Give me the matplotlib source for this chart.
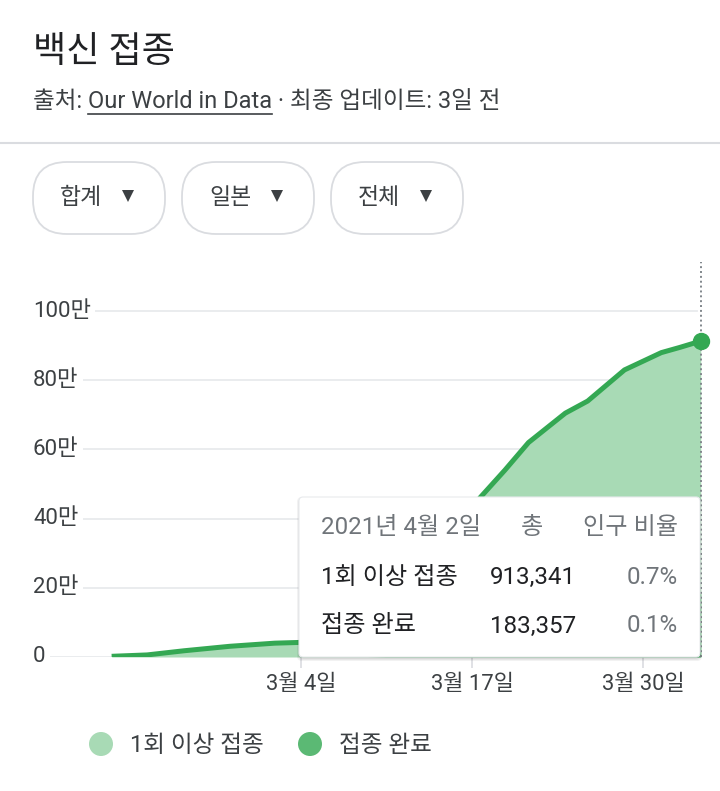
import matplotlib.pyplot as plt
from matplotlib.patches import FancyBboxPatch, Circle
from matplotlib.transforms import blended_transform_factory

plt.rcParams['font.family'] = ['Roboto', 'Noto Sans CJK KR', 'DejaVu Sans']

# days counted from 3월 4일
first_days = [-14.4, -11.7, -8.9, -5.4, -2.0, -0.2, 3, 6, 8.5, 11, 13.6,
              15.5, 17.3, 20.1, 21.8, 24.6, 27.4, 28.8, 30.4]
first_dose = [2000, 6000, 18000, 31000, 40000, 42000, 55000, 90000, 160000,
              290000, 460000, 540000, 620000, 705000, 740000, 830000, 880000,
              895000, 913341]
full_days = [-14.4, 5, 7, 12, 17.3, 21.8, 24.6, 28.8, 30.4]
full_dose = [0, 0, 2000, 30000, 70000, 110000, 140000, 170000, 183357]

ytick_vals = [0, 200000, 400000, 600000, 800000, 1000000]
ytick_labels = ['0', '20만', '40만', '60만', '80만', '100만']
xtick_days = [0, 13, 26]
xtick_labels = ['3월 4일', '3월 17일', '3월 30일']

filters = ['합계', '일본', '전체']
legend_names = ['1회 이상 접종', '접종 완료']
tip_date = '2021년 4월 2일'
tip_pct = ['0.7%', '0.1%']

LIGHT = '#a8dab5'
DARK = '#5bb974'
LINE = '#34a853'

W, H = 720, 791
fig = plt.figure(figsize=(W / 100, H / 100), dpi=100)


def px_rect(l, t, r, b):
    return [l / W, 1 - b / H, (r - l) / W, (b - t) / H]


PX_DAY = 13.15   # pixels per day
X0 = 301         # pixel of day 0


def day(px):
    return (px - X0) / PX_DAY


# ---- chart
ax = fig.add_axes(px_rect(33, 262, 705, 657))
ax.set_xlim(day(33), day(705))
ax.set_ylim(0, 1142000)
for s in ax.spines.values():
    s.set_visible(False)

for v in ytick_vals:
    ax.axhline(v, xmin=0, xmax=0.988, color='#e8eaed', lw=1.3, zorder=0)
ytr = blended_transform_factory(ax.transAxes, ax.transData)
for v, lab in zip(ytick_vals, ytick_labels):
    ax.text(0, v, lab, transform=ytr, ha='left', va='center', fontsize=16,
            color='#3c4043', zorder=1,
            bbox=dict(boxstyle='square,pad=0.2', fc='white', ec='none'))
ax.set_yticks([])

ax.set_xticks(xtick_days)
ax.set_xticklabels(xtick_labels, fontsize=15.8, color='#3c4043')
ax.tick_params(axis='x', length=8, color='#dadce0', width=1.2, pad=4)

ax.fill_between(first_days, first_dose, color=LIGHT, lw=0, zorder=2)
ax.fill_between(full_days, full_dose, color=DARK, lw=0, zorder=3)
ax.plot(first_days, first_dose, color=LINE, lw=3.6, solid_joinstyle='round',
        solid_capstyle='butt', zorder=4)
ax.vlines(first_days[-1], 0, 1142000, color='#80868b', lw=1.4,
          linestyles=(0, (1, 1.5)), zorder=3.5)
ax.plot(first_days[-1], first_dose[-1], 'o', color=LINE, ms=11.5,
        clip_on=False, zorder=5)

# ---- overlay in pixel coordinates
ov = fig.add_axes([0, 0, 1, 1])
ov.set_xlim(0, W)
ov.set_ylim(H, 0)
ov.axis('off')
ov.patch.set_alpha(0)

ov.text(33, 52, '백신 접종', fontsize=26, color='#202124', va='center', ha='left')

fig.canvas.draw()
renderer = fig.canvas.get_renderer()
inv = ov.transData.inverted()
sub_y = 102
parts = ['출처: ', 'Our World in Data', ' · 최종 업데이트: 3일 전']
x = 33
for i, p in enumerate(parts):
    t = ov.text(x, sub_y, p, fontsize=17, color='#3c4043', va='center', ha='left')
    bb = t.get_window_extent(renderer)
    (x_l, _), (x_r, y_b) = inv.transform([[bb.x0, bb.y0], [bb.x1, bb.y0]])
    if i == 1:
        ov.plot([x_l, x_r], [114, 114], color='#3c4043', lw=1.2)
    x = x_r
ov.plot([0, W], [143, 143], color='#dadce0', lw=1.5)

pill_x = [33, 182, 331]
for px, name in zip(pill_x, filters):
    ov.add_patch(FancyBboxPatch((px, 162), 132, 72,
                                boxstyle='round,pad=0,rounding_size=34',
                                fc='white', ec='#dadce0', lw=1.3))
    ov.text(px + 27, 197, name, fontsize=16.5, color='#3c4043', va='center', ha='left')
    ov.plot(px + 95, 196, marker='v', ms=9, color='#3c4043', mew=0)

# tooltip
for k, a in enumerate([0.05, 0.05, 0.06]):
    d = 3 - k
    ov.add_patch(FancyBboxPatch((299 - d + 1, 497 - d + 3), 401 + 2 * d - 2, 160 + 2 * d - 2,
                                boxstyle='round,pad=0,rounding_size=5',
                                fc='black', ec='none', alpha=a, zorder=5))
ov.add_patch(FancyBboxPatch((299, 497), 401, 160,
                            boxstyle='round,pad=0,rounding_size=4',
                            fc='white', ec='#e8eaed', lw=0.8, zorder=6))
tip_kw = dict(fontsize=17.4, va='center', zorder=7)
ov.text(321, 528, tip_date, ha='left', color='#70757a', **tip_kw)
ov.text(532, 528, '총', ha='center', color='#70757a', **tip_kw)
ov.text(678, 528, '인구 비율', ha='right', color='#70757a', **tip_kw)
for row_y, name, val, pct in zip([577, 626], legend_names,
                                 [first_dose[-1], full_dose[-1]], tip_pct):
    ov.text(321, row_y, name, ha='left', color='#202124', **tip_kw)
    ov.text(576, row_y, f'{val:,}', ha='right', color='#202124', **tip_kw)
    ov.text(678, row_y, pct, ha='right', color='#70757a', **tip_kw)

# legend
for cx, col, name in zip([101, 310], [LIGHT, DARK], legend_names):
    ov.add_patch(Circle((cx, 744), 12, fc=col, ec='none'))
    ov.text(cx + 29, 745, name, fontsize=17, color='#3c4043', va='center', ha='left')

fig.savefig('out.png', dpi=100, facecolor='white')
